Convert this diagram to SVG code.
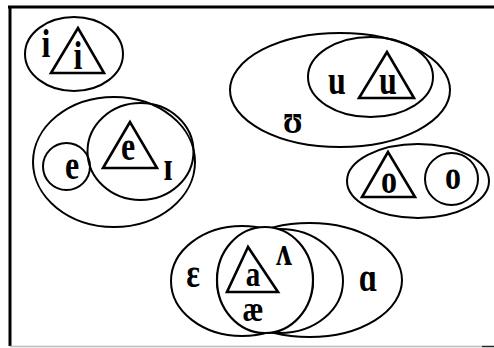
<svg xmlns="http://www.w3.org/2000/svg" width="494" height="348" viewBox="0 0 494 348">
<style>
.e{fill:none;stroke:#000;stroke-width:2}
.w{fill:#fff;stroke:#000;stroke-width:2.2}
.t{fill:none;stroke:#000;stroke-width:2.6;stroke-linejoin:miter}
.l{font-family:"Liberation Serif","Times New Roman",serif;font-weight:bold;font-size:32px;fill:#000;text-anchor:middle;transform-box:fill-box;transform-origin:center;transform:scaleY(1.22)}
.s{font-size:29px}
</style>
<rect width="494" height="348" fill="#fff"/>
<g id="frame">
<line x1="8" y1="7" x2="494" y2="7" stroke="#000" stroke-width="3"/>
<line x1="10" y1="6" x2="10" y2="346" stroke="#000" stroke-width="3"/>
<line x1="10" y1="346.5" x2="482" y2="346.5" stroke="#bbb" stroke-width="1.5"/>
<line x1="482" y1="346.5" x2="494" y2="346.5" stroke="#222" stroke-width="1.5"/>
</g>
<g id="node-i">
<ellipse class="e" cx="74" cy="54" rx="49" ry="37"/>
<polygon class="t" points="78,28 51,73 104,73"/>
<text class="l" x="46" y="55">i</text>
<text class="l" x="78" y="67">i</text>
</g>
<g id="node-e">
<ellipse class="e" cx="114" cy="162" rx="81" ry="65"/>
<ellipse class="e" cx="66.5" cy="166.5" rx="23.5" ry="23.5"/>
<ellipse class="e" cx="140.5" cy="151.5" rx="53" ry="48.5"/>
<polygon class="t" points="130,122 103,168 157,168"/>
<text class="l" x="72" y="177">e</text>
<text class="l" x="128" y="158">e</text>
<text class="l" x="168" y="178">ɪ</text>
</g>
<g id="node-u">
<ellipse class="e" cx="340" cy="90" rx="110" ry="57"/>
<ellipse class="e" cx="370.5" cy="77" rx="62.5" ry="40"/>
<polygon class="t" points="387,52 359,98 414,98"/>
<text class="l" x="337" y="92">u</text>
<text class="l" x="388" y="92">u</text>
<text class="l" x="293" y="131">ʊ</text>
</g>
<g id="node-o">
<ellipse class="e" cx="418" cy="181" rx="71" ry="37"/>
<ellipse class="e" cx="451.5" cy="179" rx="26.5" ry="26"/>
<polygon class="t" points="388,152 362,197 415,197"/>
<text class="l" x="389" y="191">o</text>
<text class="l" x="453" y="187">o</text>
</g>
<g id="node-a">
<ellipse class="e" cx="242" cy="281" rx="71" ry="55"/>
<ellipse class="e" cx="280" cy="281" rx="63" ry="52"/>
<ellipse class="e" cx="309.5" cy="280" rx="92.5" ry="57"/>
<ellipse class="w" cx="265" cy="280" rx="48" ry="53"/>
<polygon class="t" points="248,247 227,292 278,292"/>
<text class="l s" x="253" y="284">a</text>
<text class="l" x="284" y="263">ʌ</text>
<text class="l s" x="253" y="319">æ</text>
<text class="l" x="193" y="285">ε</text>
<text class="l" x="368" y="289">ɑ</text>
</g>
<g id="connectors"/>
</svg>
